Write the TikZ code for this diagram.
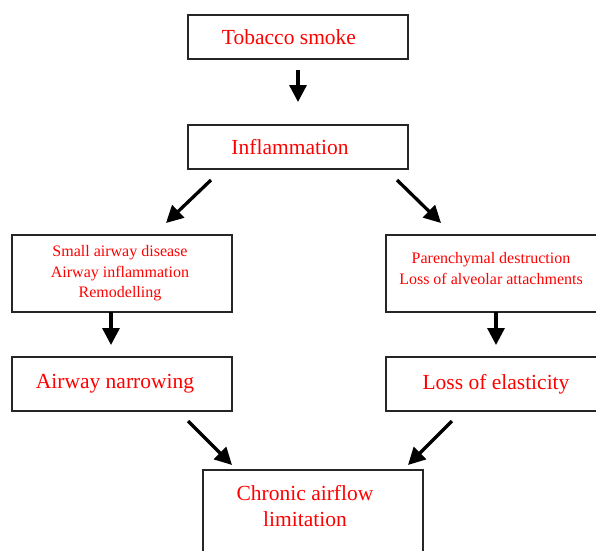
\documentclass[tikz,border=0pt]{standalone}
\usepackage{fontspec}
\setmainfont{Liberation Serif}
\usetikzlibrary{arrows.meta}
\tikzset{
  box/.style={draw=black!85, line width=1.1pt, rectangle, inner sep=0pt, minimum width=220pt},
  big/.style={text=red, align=center, font=\fontsize{21.5}{26}\selectfont, inner sep=0pt},
  small/.style={text=red, align=center, font=\fontsize{16}{20.5}\selectfont, inner sep=0pt},
  arr/.style={line width=3.3pt, -{Triangle[width=17pt,length=17pt]}}
}
\begin{document}
\begin{tikzpicture}[x=1pt,y=-1pt]
\useasboundingbox (0,0) rectangle (596,550);
\node[box, minimum height=44pt, label={[big, xshift=-9]center:Tobacco smoke}] (tob) at (298,37) {};
\node[box, minimum height=44pt, label={[big, xshift=-8]center:Inflammation}] (inf) at (298,147) {};
\node[box, minimum height=77pt, label={[small, xshift=-2, yshift=0]center:Small airway disease\\Airway inflammation\\Remodelling}] (sad) at (122,273.5) {};
\node[box, minimum height=77pt, label={[small, xshift=-5, yshift=5]center:Parenchymal destruction\\Loss of alveolar attachments}] (par) at (496,273.5) {};
\node[box, minimum height=54pt, label={[big, xshift=-7]center:Airway narrowing}] (nar) at (122,384) {};
\node[box, minimum height=54pt, label={[big, xshift=0]center:Loss of elasticity}] (ela) at (496,384) {};
\node[box, minimum height=90pt, label={[big, xshift=-8, yshift=9]center:Chronic airflow\\limitation}] (caf) at (313,515) {};
% arrow end points
\coordinate (a1s) at (298,70);  \coordinate (a1e) at (298,102);
\coordinate (a2s) at (211,180); \coordinate (a2e) at (166,223);
\coordinate (a3s) at (397,180); \coordinate (a3e) at (441,223);
\coordinate (a4s) at (111,312); \coordinate (a4e) at (111,345);
\coordinate (a5s) at (496,312); \coordinate (a5e) at (496,345);
\coordinate (a6s) at (188,421); \coordinate (a6e) at (232,465);
\coordinate (a7s) at (452,421); \coordinate (a7e) at (408,465);
\draw[arr] (a1s) -- (a1e);
\draw[arr] (a2s) -- (a2e);
\draw[arr] (a3s) -- (a3e);
\draw[arr] (a4s) -- (a4e);
\draw[arr] (a5s) -- (a5e);
\draw[arr] (a6s) -- (a6e);
\draw[arr] (a7s) -- (a7e);
\end{tikzpicture}
\end{document}
